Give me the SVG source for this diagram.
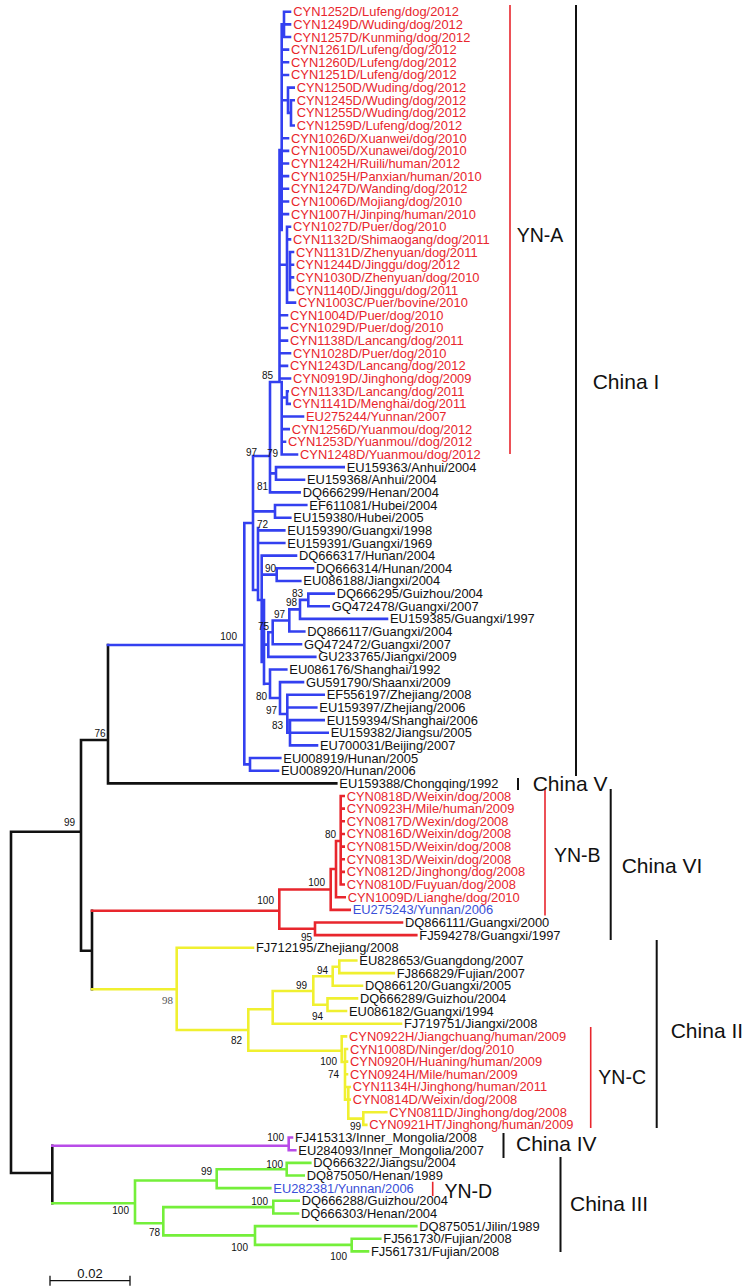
<svg xmlns="http://www.w3.org/2000/svg" width="750" height="1288" viewBox="0 0 750 1288">
<style>
text{font-family:"Liberation Sans",Arial,sans-serif}
.t{font-size:12.9px;fill:#111}
.r{fill:#e8262d}
.u{fill:#3a4fd8}
.bs{font-size:10px;fill:#111;text-anchor:end}
.sf{font-family:"Liberation Serif","Times New Roman",serif;font-size:11px;fill:#555;text-anchor:end}
.cl{font-size:21px;fill:#111}
.yn{font-size:19.5px;fill:#111}
path{fill:none;stroke-linecap:square}
.bk{stroke:#111;stroke-width:2.6}
.bl{stroke:#3340f0;stroke-width:2.6}
.rd{stroke:#e8262d;stroke-width:2.6}
.ye{stroke:#f0f030;stroke-width:2.6}
.gr{stroke:#74ef3a;stroke-width:2.6}
.pu{stroke:#b84ce8;stroke-width:2.6}
.brk{stroke:#111;stroke-width:2;stroke-linecap:butt}
.brr{stroke:#e8262d;stroke-width:1.6;stroke-linecap:butt}
</style>
<rect width="750" height="1288" fill="#fff"/>
<g id="connectors">
<path class="bk" d="M11 831.7V1173M11 831.7H81M81 740V950.7M81 740H108M108 645V783.35M108 783.35H336.3M81 950.7H92M92 910.7V989.3M11 1173H52.3M52.3 1145.7V1203.3"/>
<path class="bl" d="M284 11.7V37M284 11.7H290M284 24.35H290M284 37H290M281.7 24.35H284M281.7 24.35V230M281.7 49.65H288M281.7 62.3H288M281.7 74.95H288M288 87.6V112.9M288 87.6H293.7M288 112.9H291M281.7 100.25H288M291 100.25V125.55M291 100.25H293.7M291 125.55H293.7M281.7 138.2H288M281.7 150.85H288M281.7 163.5H288M281.7 176.15H288M281.7 188.8H288M281.7 201.45H288M281.7 214.1H288M279.5 150V382M287 226.75V302.65M287 226.75H290M287 239.4H290M287 302.65H295M279.5 264.7H287M290 252.05V290M290 252.05H293M290 264.7H293M290 277.35H293M290 290H293M279.5 315.3H287M279.5 327.95H287M279.5 340.6H287M279.5 353.25H290M279.5 365.9H287M279.5 378.55H290M270 382H281.7M281.7 382V454.45M287 391.2V403.85M287 391.2H287.7M287 403.85H289.7M281.7 397.5H287M281.7 416.5H303M281.7 429.15H288.7M281.7 441.8H285M281.7 454.45H297M270 382V492.4M270 473.4H276M276 467.1V479.75M276 467.1H343.7M276 479.75H304M270 492.4H299.7M253 456H270M253 456V590M253 511.4H275M275 505.05V517.7M275 505.05H306.3M275 517.7H290.3M244.3 523H253M253 590H258M258 528V600M258 530.35H284.3M258 543H284.3M261.7 555.65V662M261.7 555.65H296M261.7 574.6H276.7M276.7 568.3V580.95M276.7 568.3H313M276.7 580.95H300.3M308.3 593.6V606.25M308.3 593.6H333.7M308.3 606.25H328.7M300 599.9V618.9M300 599.9H308.3M300 618.9H387M289.3 609.4V631.55M289.3 609.4H300M289.3 631.55H304.3M272.7 620.5V644.2M272.7 620.5H289.3M272.7 644.2H301M268.3 632.3V656.85M268.3 632.3H272.7M268.3 656.85H315.3M264 644.6H268.3M264 600V684M258 600H264M264 683.7H270M270 669.5V698M270 669.5H286.3M270 698H280M280 682.15V714M280 682.15H303M280 714H287.3M287.3 694.8V732.75M287.3 694.8H323.7M287.3 707.45H316.3M287.3 732.75H290M290 720.1V745.4M290 720.1H323.7M290 732.75H327.7M290 745.4H317M244.3 523V764.4M244.3 764.4H250M250 758.05V770.7M250 758.05H280.3M250 770.7H278M108 645H244.3"/>
<path class="rd" d="M92 910.7H279.3M279.3 889.5V928.8M279.3 928.8H315M315 922.5V935.15M315 922.5H402M315 935.15H416.3M279.3 889.5H330.7M330.7 869V909.85M330.7 909.85H349.7M330.7 869H336M336 841V897.2M336 897.2H344.7M336 841H340.7M340.7 796V884.55M340.7 796H343.7M340.7 808.65H343.7M340.7 821.3H343.7M340.7 833.95H343.7M340.7 846.6H343.7M340.7 859.25H343.7M340.7 871.9H343.7M340.7 884.55H343.7"/>
<path class="ye" d="M92 989.3H176.7M176.7 947.8V1030M176.7 947.8H253M176.7 1030H248.3M248.3 1009.3V1050.7M248.3 1009.3H272.7M272.7 991V1023.7M272.7 1023.7H401M272.7 991H313.3M313.3 976.3V1004.7M313.3 976.3H332.7M332.7 966.7V985.75M332.7 966.7H339.3M339.3 960.45V973.1M339.3 960.45H356.3M339.3 973.1H393.7M332.7 985.75H362M313.3 1004.7H327.5M327.5 998.4V1011.05M327.5 998.4H357M327.5 1011.05H346M248.3 1050.7H341.7M341.7 1036.35V1062M341.7 1036.35H346M341.7 1062H345M345 1049V1099.6M345 1049H347M345 1061.65H347M345 1074.3H347M345 1099.6H349.7M348.3 1086.95V1118.6M345 1086.95H349.7M348.3 1118.6H363.3M363.3 1112.25V1124.9M363.3 1112.25H386.3M363.3 1124.9H366.3"/>
<path class="pu" d="M52.3 1145.7H288.7M288.7 1137.55V1150.2M288.7 1137.55H292M288.7 1150.2H295.3"/>
<path class="gr" d="M52.3 1203.3H135M135 1180.5V1223.3M135 1180.5H216.7M216.7 1169.2V1188.15M216.7 1169.2H286.7M286.7 1162.85V1175.5M286.7 1162.85H310.3M286.7 1175.5H303.7M216.7 1188.15H270.3M135 1223.3H163.3M163.3 1207.1V1235.4M163.3 1207.1H273.3M273.3 1200.8V1213.45M273.3 1200.8H298.7M273.3 1213.45H298M163.3 1235.4H255M255 1226.1V1244.9M255 1226.1H416.3M255 1244.9H351.7M351.7 1238.75V1251.4M351.7 1238.75H380.3M351.7 1251.4H368"/>
<path class="brr" d="M510 5V454M545 789V915.5M590.7 1027V1128M432.7 1181.7V1196"/>
<path class="brk" d="M576 5V776M518 778V790M610.7 789V940M656.7 940V1128M503.5 1133V1158M560.5 1157V1252"/>
<path stroke="#111" stroke-width="1.3" fill="none" d="M50 1280.7H130M50 1276.5V1285M130 1276.5V1285"/>
</g>
<g id="leaves" class="t">
<g id="n1"><text class="t r" x="293.3" y="16.2">CYN1252D/Lufeng/dog/2012</text></g>
<g id="n2"><text class="t r" x="293.3" y="28.85">CYN1249D/Wuding/dog/2012</text></g>
<g id="n3"><text class="t r" x="293.3" y="41.5">CYN1257D/Kunming/dog/2012</text></g>
<g id="n4"><text class="t r" x="291" y="54.15">CYN1261D/Lufeng/dog/2012</text></g>
<g id="n5"><text class="t r" x="291" y="66.8">CYN1260D/Lufeng/dog/2012</text></g>
<g id="n6"><text class="t r" x="291" y="79.45">CYN1251D/Lufeng/dog/2012</text></g>
<g id="n7"><text class="t r" x="296.7" y="92.1">CYN1250D/Wuding/dog/2012</text></g>
<g id="n8"><text class="t r" x="296.7" y="104.75">CYN1245D/Wuding/dog/2012</text></g>
<g id="n9"><text class="t r" x="296.7" y="117.4">CYN1255D/Wuding/dog/2012</text></g>
<g id="n10"><text class="t r" x="296.7" y="130.05">CYN1259D/Lufeng/dog/2012</text></g>
<g id="n11"><text class="t r" x="291" y="142.7">CYN1026D/Xuanwei/dog/2010</text></g>
<g id="n12"><text class="t r" x="291" y="155.35">CYN1005D/Xunawei/dog/2010</text></g>
<g id="n13"><text class="t r" x="291" y="168">CYN1242H/Ruili/human/2012</text></g>
<g id="n14"><text class="t r" x="291" y="180.65">CYN1025H/Panxian/human/2010</text></g>
<g id="n15"><text class="t r" x="291" y="193.3">CYN1247D/Wanding/dog/2012</text></g>
<g id="n16"><text class="t r" x="291" y="205.95">CYN1006D/Mojiang/dog/2010</text></g>
<g id="n17"><text class="t r" x="291" y="218.6">CYN1007H/Jinping/human/2010</text></g>
<g id="n18"><text class="t r" x="293" y="231.25">CYN1027D/Puer/dog/2010</text></g>
<g id="n19"><text class="t r" x="293" y="243.9">CYN1132D/Shimaogang/dog/2011</text></g>
<g id="n20"><text class="t r" x="296" y="256.55">CYN1131D/Zhenyuan/dog/2011</text></g>
<g id="n21"><text class="t r" x="296" y="269.2">CYN1244D/Jinggu/dog/2012</text></g>
<g id="n22"><text class="t r" x="296" y="281.85">CYN1030D/Zhenyuan/dog/2010</text></g>
<g id="n23"><text class="t r" x="296" y="294.5">CYN1140D/Jinggu/dog/2011</text></g>
<g id="n24"><text class="t r" x="298" y="307.15">CYN1003C/Puer/bovine/2010</text></g>
<g id="n25"><text class="t r" x="290" y="319.8">CYN1004D/Puer/dog/2010</text></g>
<g id="n26"><text class="t r" x="290" y="332.45">CYN1029D/Puer/dog/2010</text></g>
<g id="n27"><text class="t r" x="290" y="345.1">CYN1138D/Lancang/dog/2011</text></g>
<g id="n28"><text class="t r" x="293" y="357.75">CYN1028D/Puer/dog/2010</text></g>
<g id="n29"><text class="t r" x="290" y="370.4">CYN1243D/Lancang/dog/2012</text></g>
<g id="n30"><text class="t r" x="293" y="383.05">CYN0919D/Jinghong/dog/2009</text></g>
<g id="n31"><text class="t r" x="290.7" y="395.7">CYN1133D/Lancang/dog/2011</text></g>
<g id="n32"><text class="t r" x="292.7" y="408.35">CYN1141D/Menghai/dog/2011</text></g>
<g id="n33"><text class="t r" x="306" y="421">EU275244/Yunnan/2007</text></g>
<g id="n34"><text class="t r" x="291.7" y="433.65">CYN1256D/Yuanmou/dog/2012</text></g>
<g id="n35"><text class="t r" x="288" y="446.3">CYN1253D/Yuanmou//dog/2012</text></g>
<g id="n36"><text class="t r" x="300" y="458.95">CYN1248D/Yuanmou/dog/2012</text></g>
<g id="n37"><text class="t" x="346.7" y="471.6">EU159363/Anhui/2004</text></g>
<g id="n38"><text class="t" x="307" y="484.25">EU159368/Anhui/2004</text></g>
<g id="n39"><text class="t" x="302.7" y="496.9">DQ666299/Henan/2004</text></g>
<g id="n40"><text class="t" x="309.3" y="509.55">EF611081/Hubei/2004</text></g>
<g id="n41"><text class="t" x="293.3" y="522.2">EU159380/Hubei/2005</text></g>
<g id="n42"><text class="t" x="287.3" y="534.85">EU159390/Guangxi/1998</text></g>
<g id="n43"><text class="t" x="287.3" y="547.5">EU159391/Guangxi/1969</text></g>
<g id="n44"><text class="t" x="299" y="560.15">DQ666317/Hunan/2004</text></g>
<g id="n45"><text class="t" x="316" y="572.8">DQ666314/Hunan/2004</text></g>
<g id="n46"><text class="t" x="303.3" y="585.45">EU086188/Jiangxi/2004</text></g>
<g id="n47"><text class="t" x="336.7" y="598.1">DQ666295/Guizhou/2004</text></g>
<g id="n48"><text class="t" x="331.7" y="610.75">GQ472478/Guangxi/2007</text></g>
<g id="n49"><text class="t" x="390" y="623.4">EU159385/Guangxi/1997</text></g>
<g id="n50"><text class="t" x="307.3" y="636.05">DQ866117/Guangxi/2004</text></g>
<g id="n51"><text class="t" x="304" y="648.7">GQ472472/Guangxi/2007</text></g>
<g id="n52"><text class="t" x="318.3" y="661.35">GU233765/Jiangxi/2009</text></g>
<g id="n53"><text class="t" x="289.3" y="674">EU086176/Shanghai/1992</text></g>
<g id="n54"><text class="t" x="306" y="686.65">GU591790/Shaanxi/2009</text></g>
<g id="n55"><text class="t" x="326.7" y="699.3">EF556197/Zhejiang/2008</text></g>
<g id="n56"><text class="t" x="319.3" y="711.95">EU159397/Zhejiang/2006</text></g>
<g id="n57"><text class="t" x="326.7" y="724.6">EU159394/Shanghai/2006</text></g>
<g id="n58"><text class="t" x="330.7" y="737.25">EU159382/Jiangsu/2005</text></g>
<g id="n59"><text class="t" x="320" y="749.9">EU700031/Beijing/2007</text></g>
<g id="n60"><text class="t" x="283.3" y="762.55">EU008919/Hunan/2005</text></g>
<g id="n61"><text class="t" x="281" y="775.2">EU008920/Hunan/2006</text></g>
<g id="n62"><text class="t" x="339.3" y="787.85">EU159388/Chongqing/1992</text></g>
<g id="n63"><text class="t r" x="346.7" y="800.5">CYN0818D/Weixin/dog/2008</text></g>
<g id="n64"><text class="t r" x="346.7" y="813.15">CYN0923H/Mile/human/2009</text></g>
<g id="n65"><text class="t r" x="346.7" y="825.8">CYN0817D/Wexin/dog/2008</text></g>
<g id="n66"><text class="t r" x="346.7" y="838.45">CYN0816D/Weixin/dog/2008</text></g>
<g id="n67"><text class="t r" x="346.7" y="851.1">CYN0815D/Weixin/dog/2008</text></g>
<g id="n68"><text class="t r" x="346.7" y="863.75">CYN0813D/Weixin/dog/2008</text></g>
<g id="n69"><text class="t r" x="346.7" y="876.4">CYN0812D/Jinghong/dog/2008</text></g>
<g id="n70"><text class="t r" x="346.7" y="889.05">CYN0810D/Fuyuan/dog/2008</text></g>
<g id="n71"><text class="t r" x="347.7" y="901.7">CYN1009D/Lianghe/dog/2010</text></g>
<g id="n72"><text class="t u" x="352.7" y="914.35">EU275243/Yunnan/2006</text></g>
<g id="n73"><text class="t" x="405" y="927">DQ866111/Guangxi/2000</text></g>
<g id="n74"><text class="t" x="419.3" y="939.65">FJ594278/Guangxi/1997</text></g>
<g id="n75"><text class="t" x="256" y="952.3">FJ712195/Zhejiang/2008</text></g>
<g id="n76"><text class="t" x="359.3" y="964.95">EU828653/Guangdong/2007</text></g>
<g id="n77"><text class="t" x="396.7" y="977.6">FJ866829/Fujian/2007</text></g>
<g id="n78"><text class="t" x="365" y="990.25">DQ866120/Guangxi/2005</text></g>
<g id="n79"><text class="t" x="360" y="1002.9">DQ666289/Guizhou/2004</text></g>
<g id="n80"><text class="t" x="349" y="1015.55">EU086182/Guangxi/1994</text></g>
<g id="n81"><text class="t" x="404" y="1028.2">FJ719751/Jiangxi/2008</text></g>
<g id="n82"><text class="t r" x="349" y="1040.85">CYN0922H/Jiangchuang/human/2009</text></g>
<g id="n83"><text class="t r" x="350" y="1053.5">CYN1008D/Ninger/dog/2010</text></g>
<g id="n84"><text class="t r" x="350" y="1066.15">CYN0920H/Huaning/human/2009</text></g>
<g id="n85"><text class="t r" x="350" y="1078.8">CYN0924H/Mile/human/2009</text></g>
<g id="n86"><text class="t r" x="352.7" y="1091.45">CYN1134H/Jinghong/human/2011</text></g>
<g id="n87"><text class="t r" x="352.7" y="1104.1">CYN0814D/Weixin/dog/2008</text></g>
<g id="n88"><text class="t r" x="389.3" y="1116.75">CYN0811D/Jinghong/dog/2008</text></g>
<g id="n89"><text class="t r" x="369.3" y="1129.4">CYN0921HT/Jinghong/human/2009</text></g>
<g id="n90"><text class="t" x="295" y="1142.05">FJ415313/Inner_Mongolia/2008</text></g>
<g id="n91"><text class="t" x="298.3" y="1154.7">EU284093/Inner_Mongolia/2007</text></g>
<g id="n92"><text class="t" x="313.3" y="1167.35">DQ666322/Jiangsu/2004</text></g>
<g id="n93"><text class="t" x="306.7" y="1180">DQ875050/Henan/1989</text></g>
<g id="n94"><text class="t u" x="273.3" y="1192.65">EU282381/Yunnan/2006</text></g>
<g id="n95"><text class="t" x="301.7" y="1205.3">DQ666288/Guizhou/2004</text></g>
<g id="n96"><text class="t" x="301" y="1217.95">DQ666303/Henan/2004</text></g>
<g id="n97"><text class="t" x="419.3" y="1230.6">DQ875051/Jilin/1989</text></g>
<g id="n98"><text class="t" x="383.3" y="1243.25">FJ561730/Fujian/2008</text></g>
<g id="n99"><text class="t" x="371" y="1255.9">FJ561731/Fujian/2008</text></g>
</g>
<g id="bootstrap">
<text class="bs" x="273" y="378.6">85</text>
<text class="bs" x="257" y="456.3">97</text>
<text class="bs" x="278" y="456.6">79</text>
<text class="bs" x="268" y="489.6">81</text>
<text class="bs" x="268" y="527.6">72</text>
<text class="bs" x="276" y="571.6">90</text>
<text class="bs" x="303" y="596.6">83</text>
<text class="bs" x="297" y="606.3">98</text>
<text class="bs" x="285" y="617.6">97</text>
<text class="bs" x="269" y="629.6">75</text>
<text class="bs" x="237" y="639.6">100</text>
<text class="bs" x="267" y="700.3">80</text>
<text class="bs" x="277" y="713.6">97</text>
<text class="bs" x="283" y="728.6">83</text>
<text class="bs" x="105.5" y="736.6">76</text>
<text class="bs" x="75" y="825.6">99</text>
<text class="bs" x="336" y="837.6">80</text>
<text class="bs" x="325" y="886.3">100</text>
<text class="bs" x="274" y="904.3">100</text>
<text class="bs" x="312" y="940.6">95</text>
<text class="bs" x="328" y="974.3">94</text>
<text class="bs" x="307" y="988.6">99</text>
<text class="sf" x="173" y="1003.6">98</text>
<text class="bs" x="323" y="1020.3">94</text>
<text class="bs" x="242" y="1043.6">82</text>
<text class="bs" x="337" y="1065.3">100</text>
<text class="bs" x="339" y="1077.6">74</text>
<text class="bs" x="361" y="1130.3">99</text>
<text class="bs" x="284" y="1140.9">100</text>
<text class="bs" x="283" y="1167.9">100</text>
<text class="bs" x="212" y="1175.3">99</text>
<text class="bs" x="268" y="1205.3">100</text>
<text class="bs" x="129" y="1214.3">100</text>
<text class="bs" x="160" y="1236.3">78</text>
<text class="bs" x="248" y="1250.9">100</text>
<text class="bs" x="347" y="1260.3">100</text>
</g>
<g id="clade-labels">
<g id="YN-A"><text class="yn" x="516.7" y="241.7">YN-A</text></g>
<g id="China-I"><text class="cl" x="592.7" y="389.1">China I</text></g>
<g id="China-V"><text class="cl" x="532.7" y="790.5">China V</text></g>
<g id="YN-B"><text class="yn" x="554" y="862">YN-B</text></g>
<g id="China-VI"><text class="cl" x="621.7" y="872.5">China VI</text></g>
<g id="China-II"><text class="cl" x="670.7" y="1037.5">China II</text></g>
<g id="YN-C"><text class="yn" x="598.3" y="1083.7">YN-C</text></g>
<g id="China-IV"><text class="cl" x="516" y="1151">China IV</text></g>
<g id="China-III"><text class="cl" x="570" y="1210.8">China III</text></g>
<g id="YN-D"><text class="yn" x="444.5" y="1197.5">YN-D</text></g>
</g>
<g id="scale"><text x="90" y="1277.5" font-size="13" text-anchor="middle" fill="#111">0.02</text></g>
</svg>
